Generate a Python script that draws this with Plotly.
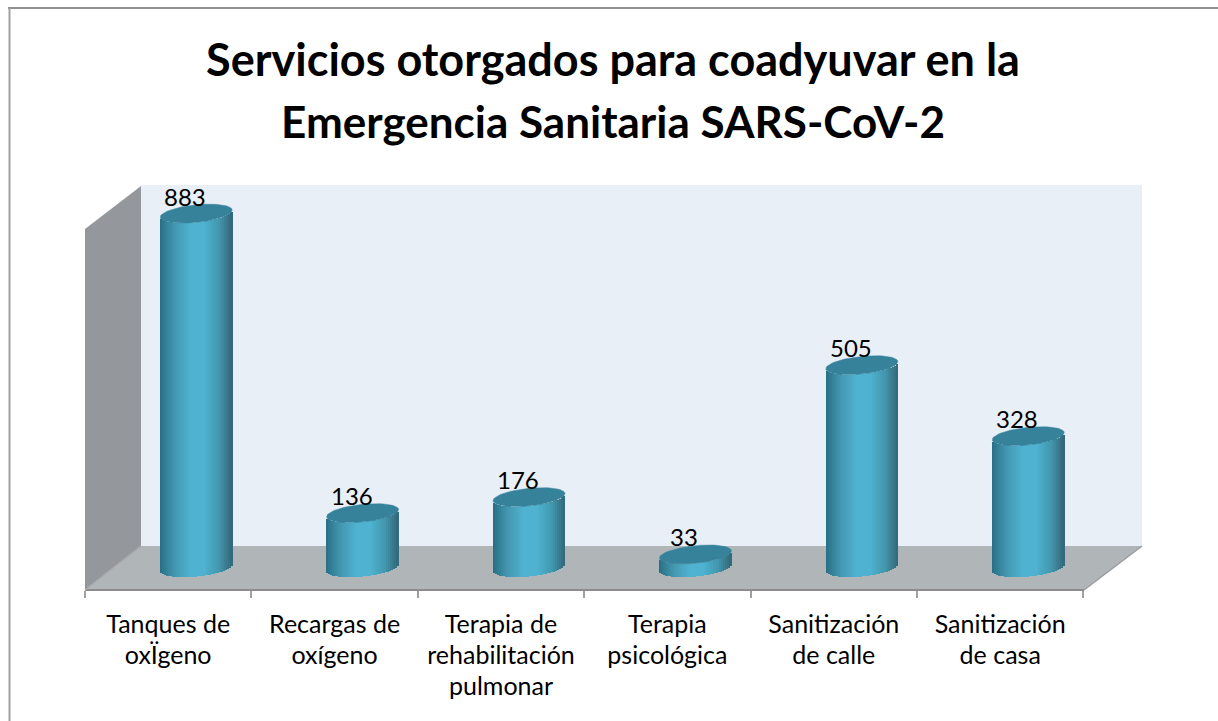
import math
import plotly.graph_objects as go

title_lines = ["Servicios otorgados para coadyuvar en la", "Emergencia Sanitaria SARS-CoV-2"]
title_sizes = [45, 44]
category_lines = [["Tanques de", "oxÏgeno"], ["Recargas de", "oxígeno"], ["Terapia de", "rehabilitación", "pulmonar"],
                  ["Terapia", "psicológica"], ["Sanitización", "de calle"], ["Sanitización", "de casa"]]
values = [883, 136, 176, 33, 505, 328]

# layout calibration (page pixels)
W, H = 1218, 721
X0, BIN = 85.0, 166.4      # left end of axis, width of a category
Y0, PXU = 567.7, 0.401     # pixel row of value 0, pixels per unit
DEPTH = 28.0               # 3D offset of the columns in pixels
R = 36.0                   # column radius in pixels
EA, ET = 8.8, 3.5          # ellipse minor axis and tilt in pixels
AXIS_Y = 590
N = 36
stops = [(0.0, (42, 108, 130)), (0.05, (46, 122, 144)), (0.2, (68, 150, 176)), (0.42, (78, 178, 208)),
         (0.62, (78, 178, 208)), (0.82, (66, 150, 174)), (0.95, (54, 116, 134)), (1.0, (50, 104, 120))]


def shade(t):
    for (a, ca), (b, cb) in zip(stops, stops[1:]):
        if t <= b:
            f = (t - a) / (b - a)
            return "rgb(%d,%d,%d)" % tuple(round(p + (q - p) * f) for p, q in zip(ca, cb))
    return "rgb(50,104,120)"


def px(x):
    return x / W


def py(y):
    return 1 - y / H


fig = go.Figure()
centers = [i + DEPTH / BIN for i in range(len(values))]

# cylinder bodies: vertical strips with shading
for k in range(N):
    t = (k + 0.5) / N
    u = 2 * t - 1
    curve = (EA * math.sqrt(max(0, 1 - u * u)) - ET * u) / PXU
    offs = u * R / BIN
    fig.add_trace(go.Bar(
        x=[c + offs for c in centers],
        y=[v for v in values],
        base=[-curve for _ in values],
        width=(2 * R / N + 0.6) / BIN,
        marker=dict(color=shade(t), line=dict(width=0)),
        showlegend=False, hoverinfo="skip"))

# cylinder top faces
for c, v in zip(centers, values):
    xs, ys = [], []
    for a in range(73):
        th = a * math.pi / 36
        xs.append(c + R * math.cos(th) / BIN)
        ys.append(v + (EA * math.sin(th) + ET * math.cos(th)) / PXU)
    fig.add_trace(go.Scatter(x=xs, y=ys, mode="lines", fill="toself", fillcolor="#36829a",
                             line=dict(color="#36829a", width=0.5), showlegend=False, hoverinfo="skip"))

# value labels
annotations = [dict(x=c - 11 / BIN, y=v, xref="x", yref="y", text=str(v), showarrow=False, yanchor="bottom",
                    yshift=1, font=dict(family="Lato", size=24, color="#000000"))
               for c, v in zip(centers, values)]

shapes = [
    # back wall, left wall, floor
    dict(type="path", path=f"M{px(141)},{py(185)}L{px(1142)},{py(185)}L{px(1142)},{py(546)}L{px(141)},{py(546)}Z",
         xref="paper", yref="paper", fillcolor="#e8eff6", line=dict(width=0), layer="below"),
    dict(type="path", path=f"M{px(85)},{py(229)}L{px(141)},{py(186)}L{px(141)},{py(546)}L{px(85)},{py(590)}Z",
         xref="paper", yref="paper", fillcolor="#94979b", line=dict(width=0), layer="below"),
    dict(type="path", path=f"M{px(85)},{py(590)}L{px(141)},{py(546)}L{px(1142)},{py(546)}L{px(1084)},{py(590)}Z",
         xref="paper", yref="paper", fillcolor="#b0b5b8", line=dict(width=0), layer="below"),
    dict(type="line", x0=px(85), x1=px(1084), y0=py(590), y1=py(590), xref="paper", yref="paper",
         line=dict(color="#8c8c8c", width=2), layer="below"),
    dict(type="line", x0=px(1084), x1=px(1142), y0=py(590), y1=py(546), xref="paper", yref="paper",
         line=dict(color="#9a9da0", width=1.5), layer="below"),
    dict(type="line", x0=px(85), x1=px(141), y0=py(590), y1=py(546), xref="paper", yref="paper",
         line=dict(color="#a8abae", width=1.5), layer="below"),
    # outer frame
    dict(type="line", x0=px(8), x1=1, y0=py(8), y1=py(8), xref="paper", yref="paper",
         line=dict(color="#8f8f8f", width=2), layer="below"),
    dict(type="line", x0=px(9.5), x1=px(9.5), y0=py(8), y1=0, xref="paper", yref="paper",
         line=dict(color="#a0a0a0", width=2), layer="below"),
]

title_text = "<br>".join(f'<span style="font-size:{z}px">{s}</span>' for s, z in zip(title_lines, title_sizes))
ticktext = ["<br>".join(f'<span style="font-size:25px">{s}</span>' for s in lines) for lines in category_lines]

fig.update_layout(
    width=W, height=H, margin=dict(l=0, r=0, t=0, b=0),
    paper_bgcolor="#ffffff", plot_bgcolor="rgba(0,0,0,0)",
    barmode="overlay", bargap=0, showlegend=False,
    title=dict(text=title_text, x=613 / W, xanchor="center", y=1 - 76 / H, yanchor="top",
               font=dict(family="Lato", size=48, color="#000000", weight=700)),
    xaxis=dict(range=[-X0 / BIN - 0.5, (W - X0) / BIN - 0.5], domain=[0, 1], anchor="free", position=py(AXIS_Y),
               showgrid=False, zeroline=False, showline=False,
               tickmode="array", tickvals=list(range(len(ticktext))), ticktext=ticktext,
               ticks="", ticklabelstandoff=18,
               tickfont=dict(family="Lato", size=24, color="#000000"),
               minor=dict(tickmode="array", tickvals=[i - 0.5 for i in range(len(ticktext) + 1)],
                          ticks="outside", ticklen=7, tickwidth=2, tickcolor="#a0a0a0", showgrid=False)),
    yaxis=dict(range=[-(H - Y0) / PXU, Y0 / PXU], domain=[0, 1], visible=False),
    annotations=annotations, shapes=shapes,
)
fig.write_html("out.html", config=dict(displayModeBar=False), post_script="document.body.style.margin='0';")
